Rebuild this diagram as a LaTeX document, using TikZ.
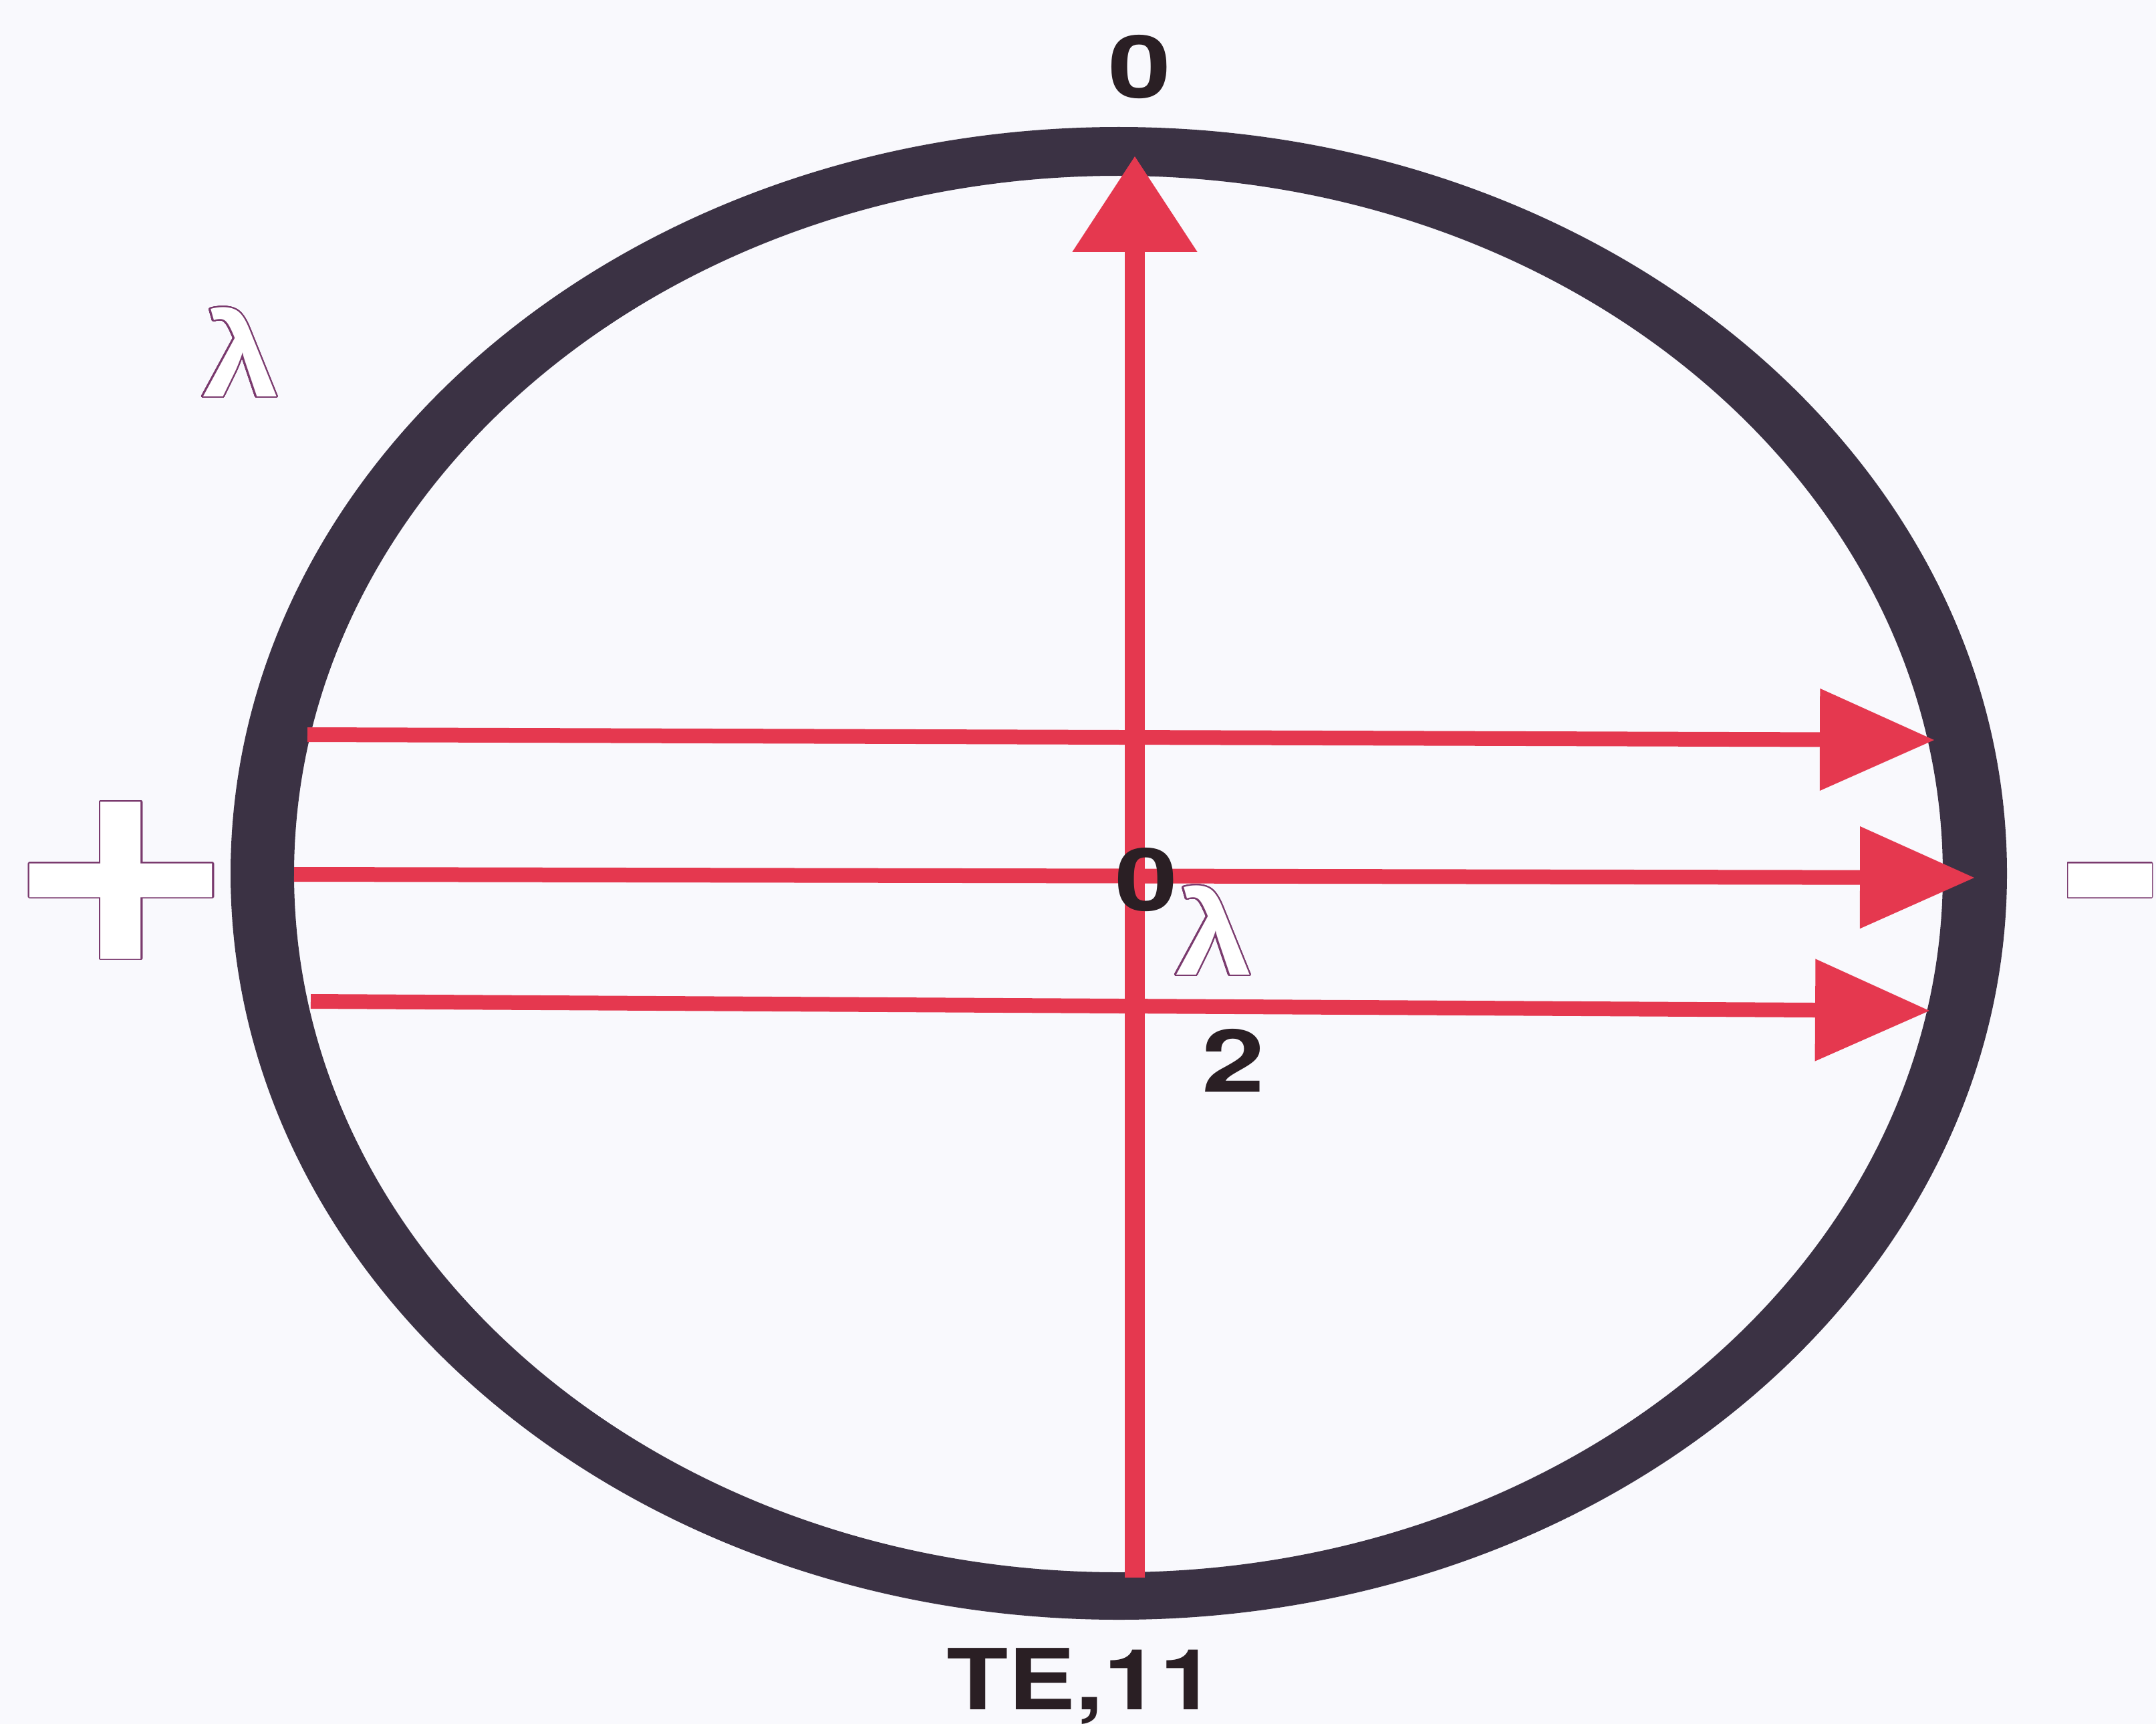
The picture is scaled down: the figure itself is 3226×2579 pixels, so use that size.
\documentclass[tikz,border=0pt]{standalone}
\usepackage{fontspec}
\setmainfont{Liberation Sans}[BoldFont={Liberation Sans Bold}]
\newfontfamily\heros{TeX Gyre Heros}
\usepackage{contour}
\usetikzlibrary{arrows.meta}
\definecolor{ringc}{HTML}{3B3244}
\definecolor{redline}{HTML}{E5384F}
\definecolor{ink}{HTML}{2A1F24}
\definecolor{outl}{HTML}{7A3A6E}
\definecolor{paper}{HTML}{F9F9FD}
\contourlength{2.2pt}
\contournumber{32}
\begin{document}
\begin{tikzpicture}[x=1pt,y=-1pt,
  ray/.style={draw=redline, line width=22pt, -{Triangle[length=172pt,width=147pt]}},
  mainray/.style={draw=redline, line width=30pt, -{Triangle[length=144pt,width=179pt]}},
  digit/.style={inner sep=0pt, text=ink, xscale=1.3, font=\heros\fontsize{130}{130}\selectfont\bfseries},
  lam/.style={inner sep=0pt, xscale=1.15, font=\fontsize{178}{178}\selectfont\bfseries},
  sign/.style={inner sep=0pt, yscale=0.85, font=\fontsize{545}{545}\selectfont\bfseries}]
\path[use as bounding box] (0,0) rectangle (3226,2579);
\fill[paper] (0,0) rectangle (3226,2579);
\clip (0,0) rectangle (3226,2579);
% waveguide wall
\fill[ringc, even odd rule] (1674,1306.5) ellipse [x radius=1329, y radius=1116.5]
  (1673.5,1307.5) ellipse [x radius=1233.5, y radius=1044.5];
% arrow ends
\coordinate (uL) at (460,1099); \coordinate (uR) at (2895,1107);
\coordinate (mL) at (440,1308); \coordinate (mR) at (2955,1313);
\coordinate (lL) at (465,1498); \coordinate (lR) at (2888,1512);
\coordinate (vB) at (1698,2360); \coordinate (vT) at (1698,233);
\draw[ray] (uL) -- (uR);
\draw[ray] (mL) -- (mR);
\draw[ray] (lL) -- (lR);
\draw[mainray] (vB) -- (vT);
% labels
\node[digit] (top0) at (1705,100) {0};
\node[digit] (mid0) at (1715,1316) {0};
\node[digit] (two) at (1845,1586) {2};
\node[digit, anchor=base, xscale=0.923, font=\heros\fontsize{126}{126}\selectfont\bfseries] (te) at (1618,2557) {TE,11};
\node[lam] (lamA) at (360,528) {\color{white}\contour{outl}{λ}};
\node[lam] (lamB) at (1816,1393) {\color{white}\contour{outl}{λ}};
\node[sign, anchor=base] (plus) at (181,1471) {\color{white}\contour{outl}{+}};
\node[sign, anchor=base west, xscale=0.46] (minus) at (3084,1471) {\color{white}\contour{outl}{−}};
\end{tikzpicture}
\end{document}
